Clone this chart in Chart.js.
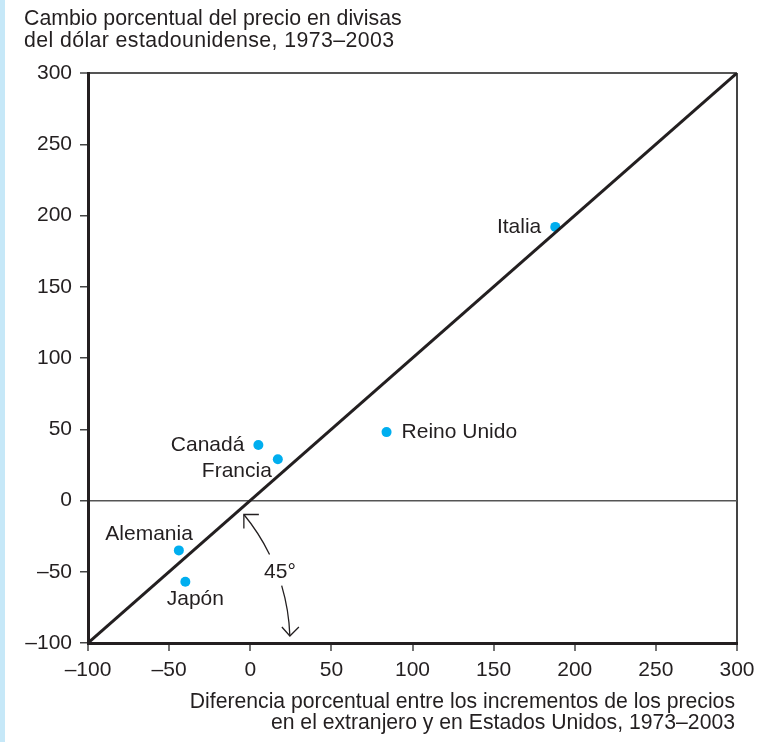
<!DOCTYPE html>
<html>
<head>
<meta charset="utf-8">
<script src="https://cdn.jsdelivr.net/npm/chart.js@4.4.1/dist/chart.umd.min.js"></script>
<style>
  html, body { margin: 0; padding: 0; background: #fff; }
  #wrap { position: relative; width: 764px; height: 742px; }
  #strip { position: absolute; left: 0; top: 0; width: 5px; height: 742px; background: #c6e8f8; }
  canvas { position: absolute; left: 0; top: 0; }
</style>
</head>
<body>
<div id="wrap">
  <div id="strip"></div>
  <canvas id="chart" width="764" height="742"></canvas>
</div>
<script>
const countries = ["Italia", "Reino Unido", "Canadá", "Francia", "Alemania", "Japón"];
const priceDiff = [188, 84, 5, 17, -44, -40];
const fxChange = [192, 48, 39, 29, -35, -57];
const axisTicks = [-100, -50, 0, 50, 100, 150, 200, 250, 300];
const yTitle = ["Cambio porcentual del precio en divisas", "del dólar estadounidense, 1973–2003"];
const xTitle = ["Diferencia porcentual entre los incrementos de los precios", "en el extranjero y en Estados Unidos, 1973–2003"];

const font = "'Liberation Sans', Arial, sans-serif";
const ink = "#231f20";
const dotColor = "#00aeef";

// where each country's name sits relative to its dot (baseline offsets)
const labelPlace = {
  "Italia": { dx: -14, dy: 6, align: "right" },
  "Reino Unido": { dx: 15, dy: 6, align: "left" },
  "Canadá": { dx: -14, dy: 6, align: "right" },
  "Francia": { dx: -6, dy: 18, align: "right" },
  "Alemania": { dx: 14, dy: -10, align: "right" },
  "Japón": { dx: 10, dy: 23, align: "center" }
};

const extras = {
  id: "extras",
  afterDatasetsDraw(chart) {
    const ctx = chart.ctx;
    const xs = chart.scales.x, ys = chart.scales.y;
    ctx.save();
    ctx.fillStyle = ink;
    ctx.textBaseline = "alphabetic";

    // axis titles
    ctx.font = "21.3px " + font;
    ctx.textAlign = "left";
    ctx.fillText(yTitle[0], 24, 25);
    ctx.letterSpacing = "0.4px";
    ctx.fillText(yTitle[1], 24, 47);
    ctx.letterSpacing = "0px";
    ctx.font = "21.2px " + font;
    ctx.textAlign = "right";
    ctx.fillText(xTitle[0], 735, 708);
    ctx.fillText(xTitle[1], 735, 729);

    // country labels
    ctx.font = "21px " + font;
    chart.getDatasetMeta(1).data.forEach((pt, i) => {
      const p = labelPlace[countries[i]];
      ctx.textAlign = p.align;
      ctx.fillText(countries[i], pt.x + p.dx, pt.y + p.dy);
    });

    // 45 degree arc
    const cx = xs.getPixelForValue(-100), cy = ys.getPixelForValue(-100);
    const r = 202;
    const deg = Math.PI / 180;
    ctx.strokeStyle = ink;
    ctx.lineWidth = 1.3;
    ctx.beginPath();
    ctx.arc(cx, cy, r, -39.5 * deg, -26 * deg);
    ctx.stroke();
    ctx.beginPath();
    ctx.arc(cx, cy, r, -16.5 * deg, -2 * deg);
    ctx.stroke();
    // arrowheads
    const ax = cx + r * Math.cos(-39.5 * deg), ay = cy + r * Math.sin(-39.5 * deg);
    ctx.beginPath();
    ctx.moveTo(ax + 15, ay);
    ctx.lineTo(ax, ay);
    ctx.lineTo(ax, ay + 14);
    ctx.stroke();
    const bx = cx + r * Math.cos(-2 * deg), by = cy + r * Math.sin(-2 * deg);
    ctx.beginPath();
    ctx.moveTo(bx - 8, by - 9);
    ctx.lineTo(bx, by);
    ctx.lineTo(bx + 9, by - 9);
    ctx.stroke();
    ctx.textAlign = "center";
    ctx.fillText("45°", 280, 578);
    ctx.restore();
  }
};

new Chart(document.getElementById("chart"), {
  type: "scatter",
  data: {
    datasets: [
      {
        type: "line",
        data: [{ x: -100, y: -100 }, { x: 300, y: 300 }],
        borderColor: ink,
        borderWidth: 3,
        pointRadius: 0
      },
      {
        data: priceDiff.map((v, i) => ({ x: v, y: fxChange[i] })),
        backgroundColor: dotColor,
        borderWidth: 0,
        pointRadius: 5
      }
    ]
  },
  options: {
    responsive: false,
    animation: false,
    layout: { padding: { top: 73, right: 27, left: 0, bottom: 0 } },
    plugins: { legend: { display: false }, tooltip: { enabled: false } },
    scales: {
      x: {
        type: "linear",
        min: -100, max: 300,
        afterBuildTicks: s => { s.ticks = axisTicks.map(v => ({ value: v })); },
        afterFit: s => { s.height = 99; },
        ticks: {
          color: ink,
          font: { family: font, size: 21 },
          padding: 7,
          maxRotation: 0,
          callback: v => String(v).replace("-", "–")
        },
        grid: {
          color: c => (c.tick && c.tick.value === 300) ? "#444" : "rgba(0,0,0,0)",
          lineWidth: 2, tickColor: "#444", tickLength: 8, tickWidth: 1.5
        },
        border: { color: ink, width: 3 }
      },
      y: {
        type: "linear",
        min: -100, max: 300,
        afterBuildTicks: s => { s.ticks = axisTicks.map(v => ({ value: v })); },
        afterFit: s => { s.width = 88; },
        ticks: {
          color: ink,
          font: { family: font, size: 21 },
          padding: 8,
          callback: v => String(v).replace("-", "–")
        },
        grid: {
          color: c => (c.tick && c.tick.value === 300) ? "#555" : (c.tick && c.tick.value === 0) ? "#555" : "rgba(0,0,0,0)",
          lineWidth: c => (c.tick && c.tick.value === 300) ? 2 : 1.5,
          tickColor: "#444", tickLength: 8, tickWidth: 1.5
        },
        border: { color: ink, width: 3 }
      }
    }
  },
  plugins: [extras]
});
</script>
</body>
</html>
